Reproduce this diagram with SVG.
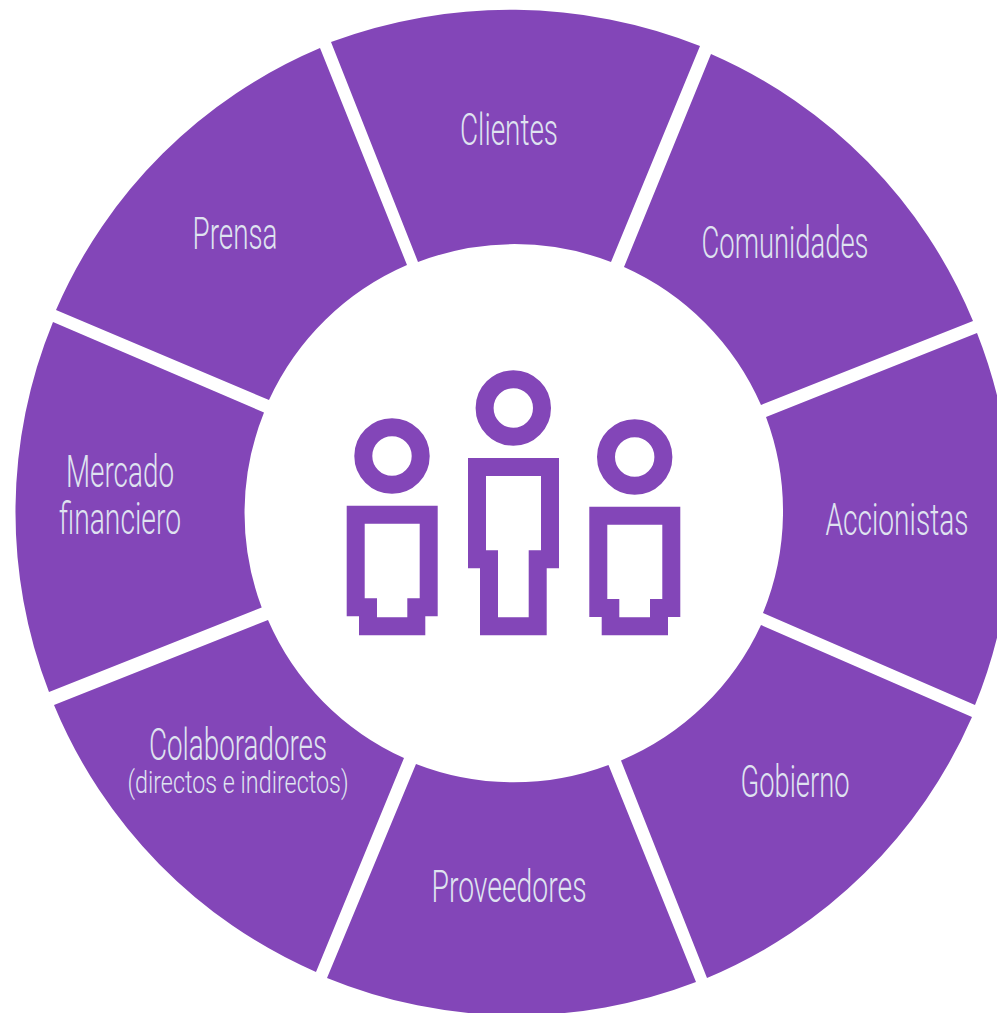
<svg xmlns="http://www.w3.org/2000/svg" width="997" height="1013" viewBox="0 0 997 1013">
<style>
.w{fill:#8346b8}
.i{fill:#8346b8;fill-rule:evenodd}
.h{fill:none;stroke:#8346b8;stroke-width:18}
text{font-family:"Roboto","Liberation Sans",sans-serif;font-weight:300;fill:#dfe3f0;text-anchor:middle}
.l{font-size:44px}
.s{font-size:32px}
</style>
<rect width="997" height="1013" fill="#fff"/>
<g id="clientes"><path class="w" d="M331 42A515 515 0 0 1 700 46L611 262A269 269 0 0 0 418 262Z"/><text class="l" x="509" y="144.5" textLength="98" lengthAdjust="spacingAndGlyphs">Clientes</text></g>
<g id="comunidades"><path class="w" d="M711 54A500 500 0 0 1 973 321L761 405A269 269 0 0 0 624 267Z"/><text class="l" x="785" y="257.5" textLength="167" lengthAdjust="spacingAndGlyphs">Comunidades</text></g>
<g id="accionistas"><path class="w" d="M977 333A500 500 0 0 1 975 705L763 613A269 269 0 0 0 766 417Z"/><text class="l" x="897" y="534.5" textLength="143" lengthAdjust="spacingAndGlyphs">Accionistas</text></g>
<g id="gobierno"><path class="w" d="M972 717A500 500 0 0 1 707 978L621 760.5A269 269 0 0 0 761 625Z"/><text class="l" x="795" y="796.5" textLength="109" lengthAdjust="spacingAndGlyphs">Gobierno</text></g>
<g id="proveedores"><path class="w" d="M696 982A500 500 0 0 1 327 978L416 764A269 269 0 0 0 608.5 765Z"/><text class="l" x="509" y="901.5" textLength="155" lengthAdjust="spacingAndGlyphs">Proveedores</text></g>
<g id="colaboradores"><path class="w" d="M316 972A500 500 0 0 1 54 705L268 620A269 269 0 0 0 404 758Z"/><text class="l" x="238" y="759.5" textLength="178" lengthAdjust="spacingAndGlyphs">Colaboradores</text><text class="s" x="238" y="792.5" textLength="221" lengthAdjust="spacingAndGlyphs">(directos e indirectos)</text></g>
<g id="mercado"><path class="w" d="M49 692A500 500 0 0 1 53 322L264 412.5A269 269 0 0 0 261.7 607.5Z"/><text class="l" x="120" y="486.5" textLength="108" lengthAdjust="spacingAndGlyphs">Mercado</text><text class="l" x="120" y="533.5" textLength="122" lengthAdjust="spacingAndGlyphs">financiero</text></g>
<g id="prensa"><path class="w" d="M56 310A500 500 0 0 1 320 48L407 265A269 269 0 0 0 269 400Z"/><text class="l" x="235" y="248.5" textLength="85" lengthAdjust="spacingAndGlyphs">Prensa</text></g>
<g id="personas">
<g id="persona-izquierda"><circle class="h" cx="392" cy="456" r="28.7"/><path class="i" d="M346.7 505.7H437.7V616.3H425.3V635.3H359V616.3H346.7ZM364.7 523.7V598.3H377V617.3H407.3V598.3H419.7V523.7Z"/></g>
<g id="persona-centro"><circle class="h" cx="513.3" cy="408" r="28.7"/><path class="i" d="M468 458H559V568.3H546.7V635.3H480V568.3H468ZM486 476V550.3H498V617.3H528.7V550.3H541V476Z"/></g>
<g id="persona-derecha"><circle class="h" cx="634.7" cy="457" r="28.7"/><path class="i" d="M589.3 506.7H680.3V617H668V635.3H601.7V617H589.3ZM607.3 524.7V599H619.3V617.3H650V599H662.3V524.7Z"/></g>
</g>
</svg>
